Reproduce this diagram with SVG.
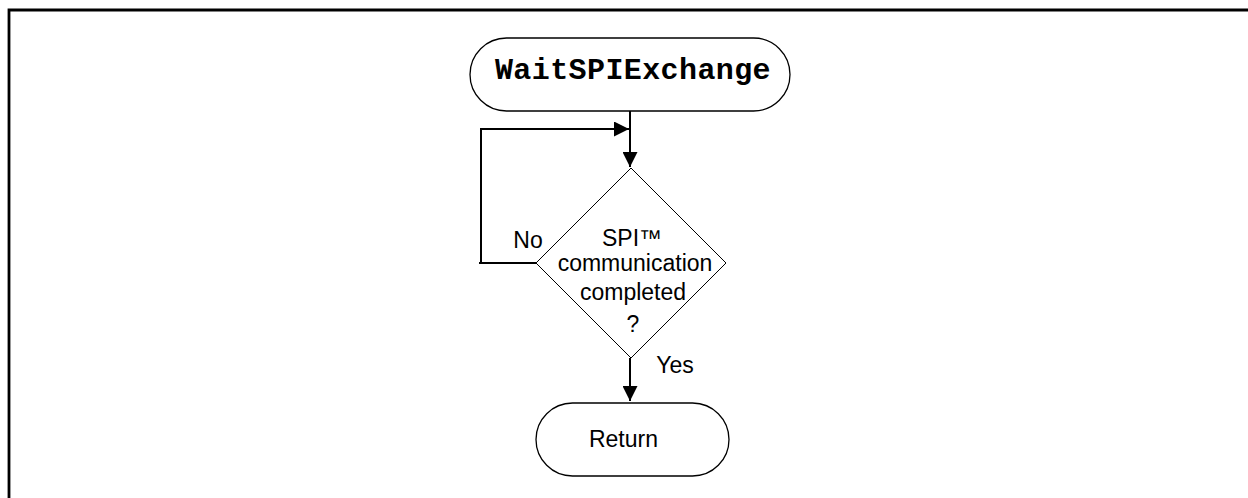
<svg xmlns="http://www.w3.org/2000/svg" width="1248" height="498" viewBox="0 0 1248 498">
<defs>
<style>
.term{fill:#fff;stroke:#000;stroke-width:1.3}
.dec{fill:#fff;stroke:#000;stroke-width:1}
.lbl{font-family:"Liberation Sans",Arial,sans-serif;font-size:23px;fill:#000;text-anchor:middle}
.code{font-family:"Liberation Mono","Courier New",monospace;font-weight:bold;font-size:30px;letter-spacing:0.4px;fill:#000;text-anchor:middle}
.conn{fill:none;stroke:#000;stroke-width:2}
</style>
<marker id="arr" viewBox="0 0 10 10" refX="10" refY="5" markerWidth="7.5" markerHeight="7.5" markerUnits="strokeWidth" orient="auto">
<path d="M0,0 L10,5 L0,10 Z" fill="#000"/>
</marker>
</defs>
<rect x="0" y="0" width="1248" height="498" fill="#fff"/>
<path id="frame" d="M9,510 V10 H1260" fill="none" stroke="#000" stroke-width="2.8"/>
<g id="start">
<rect class="term" x="470" y="38" width="320" height="73" rx="36.5"/>
<text class="code" x="633" y="79">WaitSPIExchange</text>
</g>
<g id="decision">
<polygon class="dec" points="631,168 726,263 631,358 536,263"/>
<text class="lbl" x="632" y="246">SPI™</text>
<text class="lbl" x="635" y="271">communication</text>
<text class="lbl" x="633" y="300">completed</text>
<text class="lbl" x="633" y="332">?</text>
</g>
<g id="end">
<rect class="term" x="536" y="403" width="193" height="73" rx="36.5"/>
<text class="lbl" x="623.5" y="447">Return</text>
</g>
<g id="connectors">
<line class="conn" x1="630" y1="111" x2="630" y2="167" marker-end="url(#arr)"/>
<polyline class="conn" points="536,263 479,263"/>
<polyline class="conn" points="481,264 481,129 629,129" marker-end="url(#arr)"/>
<line class="conn" x1="630" y1="358" x2="630" y2="401" marker-end="url(#arr)"/>
<text class="lbl" x="528" y="248">No</text>
<text class="lbl" x="675" y="373">Yes</text>
</g>
</svg>
